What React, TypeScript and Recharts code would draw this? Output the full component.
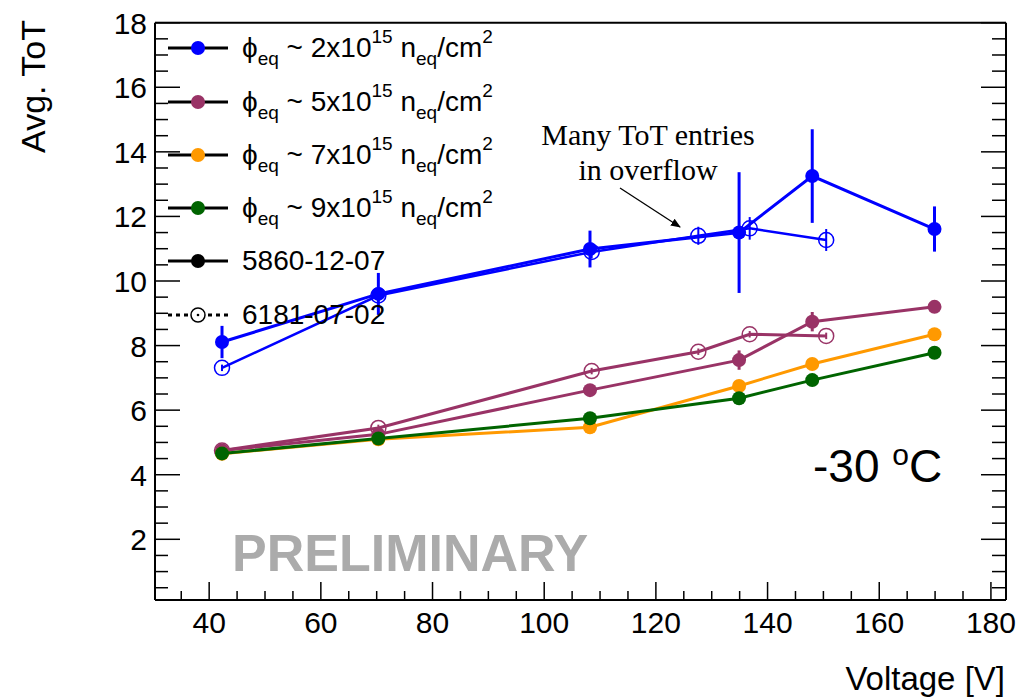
import React from 'react'
import { ComposedChart, Scatter, XAxis, YAxis, ErrorBar, Legend } from 'recharts'

const FONT = '"Liberation Sans", Arial, sans-serif'
const SERIF = '"Liberation Serif", "Times New Roman", serif'

// bias voltages of the two runs
const volts5860 = [42.3, 70.3, 108.2, 134.9, 148.0, 169.9]
const volts6181 = [42.3, 70.3, 108.5, 127.6, 136.8, 150.5]

// avg ToT, fluence 2e15
const tot2e15Run5860 = [8.11, 9.6, 10.99, 11.5, 13.25, 11.61]
const err2e15Run5860 = [0.5, 0.65, 0.57, 1.87, 1.45, 0.7]
const tot2e15Run6181 = [7.31, 9.55, 10.9, 11.4, 11.63, 11.27]
const err2e15Run6181 = [0.1, 0.15, 0.2, 0.28, 0.35, 0.34]

// fluence 5e15
const tot5e15Run5860 = [4.75, 5.25, 6.62, 7.55, 8.74, 9.2]
const err5e15Run5860 = [0.1, 0.1, 0.15, 0.3, 0.3, 0.15]
const tot5e15Run6181 = [4.75, 5.45, 7.21, 7.81, 8.35, 8.3]
const err5e15Run6181 = [0.1, 0.1, 0.1, 0.1, 0.1, 0.1]

// fluence 7e15 and 9e15
const tot7e15Run5860 = [4.65, 5.1, 5.47, 6.75, 7.43, 8.35]
const err7e15Run5860 = [0.1, 0.1, 0.1, 0.1, 0.1, 0.1]
const tot9e15Run5860 = [4.66, 5.12, 5.75, 6.37, 6.93, 7.78]
const err9e15Run5860 = [0.1, 0.1, 0.1, 0.1, 0.1, 0.1]

const fluenceLabels = ['2', '5', '7', '9']
const fluenceColors = ['#0000ff', '#993366', '#ff9900', '#006400']
const runLabels = ['5860-12-07', '6181-07-02']

const xMajorTicks = [40, 60, 80, 100, 120, 140, 160, 180]
const yMajorTicks = [2, 4, 6, 8, 10, 12, 14, 16, 18]
const xDomain = [30.3, 182.7]
const yDomain = [0.12, 18]

const xAllTicks: number[] = []
for (let v = 35; v <= 180; v += 5) xAllTicks.push(v)
const yAllTicks: number[] = []
for (let v = 0.5; v <= 18; v += 0.5) yAllTicks.push(v)

const mk = (v: number[], t: number[], e: number[]) =>
  v.map((x, i) => ({ v: x, tot: t[i], err: e[i] }))

const series = [
  { key: 'b2', data: mk(volts6181, tot2e15Run6181, err2e15Run6181), color: fluenceColors[0], open: true, w: 2.5 },
  { key: 'b1', data: mk(volts5860, tot2e15Run5860, err2e15Run5860), color: fluenceColors[0], open: false, w: 3 },
  { key: 'p2', data: mk(volts6181, tot5e15Run6181, err5e15Run6181), color: fluenceColors[1], open: true, w: 3 },
  { key: 'p1', data: mk(volts5860, tot5e15Run5860, err5e15Run5860), color: fluenceColors[1], open: false, w: 3 },
  { key: 'o1', data: mk(volts5860, tot7e15Run5860, err7e15Run5860), color: fluenceColors[2], open: false, w: 3 },
  { key: 'g1', data: mk(volts5860, tot9e15Run5860, err9e15Run5860), color: fluenceColors[3], open: false, w: 3 },
]

const dot = (color: string, open: boolean) => (props: any) => {
  const { cx, cy } = props
  if (cx == null || cy == null) return <g />
  return open ? (
    <circle cx={cx} cy={cy} r={7.5} fill="none" stroke={color} strokeWidth={1.5} />
  ) : (
    <circle cx={cx} cy={cy} r={7} fill={color} />
  )
}

const tickText = { fontFamily: FONT, fontSize: 30, fill: '#000' }

const BottomTick = (props: any) => {
  const { x, y, payload } = props
  const major = xMajorTicks.includes(payload.value)
  return (
    <g>
      <line x1={x} y1={y} x2={x} y2={y - (major ? 18 : 9)} stroke="#000" strokeWidth={1.5} />
      {major && (
        <text x={x} y={y + 33} textAnchor="middle" style={tickText}>
          {payload.value}
        </text>
      )}
    </g>
  )
}

const TopTick = (props: any) => {
  const { x, y, payload } = props
  const major = xMajorTicks.includes(payload.value)
  return <line x1={x} y1={y} x2={x} y2={y + (major ? 18 : 9)} stroke="#000" strokeWidth={1.5} />
}

const LeftTick = (props: any) => {
  const { x, y, payload } = props
  const major = yMajorTicks.includes(payload.value)
  return (
    <g>
      <line x1={x} y1={y} x2={x + (major ? 25 : 13)} y2={y} stroke="#000" strokeWidth={1.5} />
      {major && (
        <text x={x - 8} y={y + 11} textAnchor="end" style={tickText}>
          {payload.value}
        </text>
      )}
    </g>
  )
}

const RightTick = (props: any) => {
  const { x, y, payload } = props
  const major = yMajorTicks.includes(payload.value)
  return <line x1={x} y1={y} x2={x - (major ? 25 : 14)} y2={y} stroke="#000" strokeWidth={1.5} />
}

const sub = { fontSize: 19, verticalAlign: '-0.4em', lineHeight: 0 }
const sup = { fontSize: 19, verticalAlign: '0.75em', lineHeight: 0 }

const LegendIcon = ({ color, open, dashed }: { color: string; open?: boolean; dashed?: boolean }) => (
  <svg width={60} height={20} style={{ display: 'block', flex: 'none' }}>
    <line x1={0} y1={10} x2={60} y2={10} stroke="#000" strokeWidth={3} strokeDasharray={dashed ? '4 4' : undefined} />
    {open ? (
      <circle cx={30} cy={10} r={7} fill="#fff" stroke={color} strokeWidth={1.5} />
    ) : (
      <circle cx={30} cy={10} r={7} fill={color} />
    )}
    {open && <circle cx={30} cy={10} r={1.3} fill={color} />}
  </svg>
)

const LegendBox = () => (
  <div style={{ fontFamily: FONT, fontSize: 28, color: '#000', whiteSpace: 'nowrap' }}>
    {fluenceLabels.map((f, i) => (
      <div key={f} style={{ height: 53.3, display: 'flex', alignItems: 'center' }}>
        <LegendIcon color={fluenceColors[i]} />
        <span style={{ marginLeft: 14 }}>
          ϕ<span style={sub}>eq</span> ~ {f}x10<span style={sup}>15</span> n<span style={sub}>eq</span>/cm
          <span style={sup}>2</span>
        </span>
      </div>
    ))}
    <div style={{ height: 53.3, display: 'flex', alignItems: 'center' }}>
      <LegendIcon color="#000" />
      <span style={{ marginLeft: 14 }}>{runLabels[0]}</span>
    </div>
    <div style={{ height: 53.3, display: 'flex', alignItems: 'center' }}>
      <LegendIcon color="#000" open dashed />
      <span style={{ marginLeft: 14 }}>{runLabels[1]}</span>
    </div>
  </div>
)

export default function App() {
  return (
    <div style={{ position: 'absolute', left: 0, top: 0, width: 1030, height: 700, background: '#fff' }}>
      <ComposedChart width={1030} height={700} margin={{ top: 20.7, right: 20, bottom: 40, left: 95 }}>
        <XAxis
          dataKey="v"
          type="number"
          domain={xDomain}
          allowDataOverflow
          ticks={xAllTicks}
          interval={0}
          tickSize={0}
          tickMargin={0}
          tickLine={false}
          tick={<BottomTick />}
          axisLine={{ stroke: '#000', strokeWidth: 2 }}
          height={60}
        />
        <XAxis
          xAxisId="top"
          orientation="top"
          type="number"
          domain={xDomain}
          allowDataOverflow
          ticks={xAllTicks}
          interval={0}
          tickSize={0}
          tickMargin={0}
          tickLine={false}
          tick={<TopTick />}
          axisLine={{ stroke: '#000', strokeWidth: 2 }}
          height={2}
        />
        <YAxis
          dataKey="tot"
          type="number"
          domain={yDomain}
          allowDataOverflow
          ticks={yAllTicks}
          interval={0}
          tickSize={0}
          tickMargin={0}
          tickLine={false}
          tick={<LeftTick />}
          axisLine={{ stroke: '#000', strokeWidth: 2 }}
          width={60}
        />
        <YAxis
          yAxisId="right"
          orientation="right"
          type="number"
          domain={yDomain}
          allowDataOverflow
          ticks={yAllTicks}
          interval={0}
          tickSize={0}
          tickMargin={0}
          tickLine={false}
          tick={<RightTick />}
          axisLine={{ stroke: '#000', strokeWidth: 2 }}
          width={4}
        />
        {series.map((s) => (
          <Scatter
            key={s.key}
            data={s.data}
            dataKey="tot"
            line={{ stroke: s.color, strokeWidth: s.w }}
            lineType="joint"
            shape={dot(s.color, s.open)}
            isAnimationActive={false}
          >
            <ErrorBar dataKey="err" direction="y" width={0} stroke={s.color} strokeWidth={s.open ? 2 : 3} />
          </Scatter>
        ))}
        <Legend
          layout="vertical"
          align="center"
          verticalAlign="middle"
          content={<LegendBox />}
          wrapperStyle={{ top: 21.6, left: 168, width: 360, height: 330 }}
        />
      </ComposedChart>
      <svg
        width={1030}
        height={700}
        style={{ position: 'absolute', left: 0, top: 0, pointerEvents: 'none' }}
      >
        <defs>
          <marker id="arrowHead" markerWidth="10" markerHeight="8" refX="9" refY="4" orient="auto" markerUnits="userSpaceOnUse">
            <path d="M0,0 L10,4 L0,8 z" fill="#000" />
          </marker>
        </defs>
        <text x={45} y={20} transform="rotate(-90 45 20)" textAnchor="end" fontFamily={FONT} fontSize={34} fill="#000">
          Avg. ToT
        </text>
        <text x={1005} y={690} textAnchor="end" fontFamily={FONT} fontSize={33} fill="#000">
          Voltage [V]
        </text>
        <text x={232} y={571} fontFamily={FONT} fontWeight="bold" fontSize={52} fill="#ababab">
          PRELIMINARY
        </text>
        <text x={813} y={482} fontFamily={FONT} fontSize={46} fill="#000">
          -30 <tspan dy={-17} fontSize={30}>o</tspan>
          <tspan dy={17}>C</tspan>
        </text>
        <text x={648} y={145} textAnchor="middle" fontFamily={SERIF} fontSize={30} fill="#000">
          Many ToT entries
        </text>
        <text x={648} y={180} textAnchor="middle" fontFamily={SERIF} fontSize={30} fill="#000">
          in overflow
        </text>
        <line x1={620} y1={188} x2={680} y2={227} stroke="#000" strokeWidth={1.3} markerEnd="url(#arrowHead)" />
      </svg>
    </div>
  )
}
